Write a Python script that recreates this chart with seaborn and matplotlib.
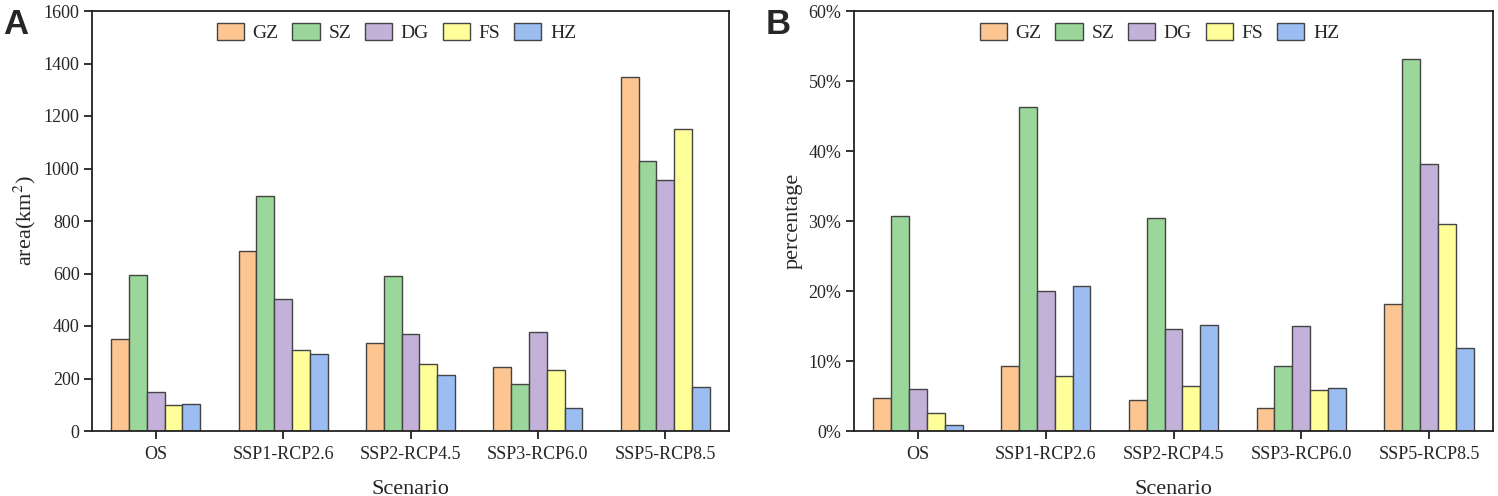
import matplotlib
matplotlib.use("Agg")
import matplotlib.pyplot as plt
import seaborn as sns
import pandas as pd
from matplotlib.ticker import PercentFormatter

scenarios = ["OS", "SSP1-RCP2.6", "SSP2-RCP4.5", "SSP3-RCP6.0", "SSP5-RCP8.5"]
cities = ["GZ", "SZ", "DG", "FS", "HZ"]
colors = ["#FDC591", "#9BD69B", "#C3B1D9", "#FFFF99", "#9CBDF2"]

area_GZ = [350, 685, 335, 245, 1350]
area_SZ = [595, 897, 590, 178, 1028]
area_DG = [150, 503, 368, 377, 958]
area_FS = [100, 310, 255, 233, 1152]
area_HZ = [103, 295, 213, 88, 168]

pct_GZ = [4.7, 9.3, 4.5, 3.3, 18.2]
pct_SZ = [30.7, 46.3, 30.4, 9.3, 53.2]
pct_DG = [6.0, 20.0, 14.6, 15.0, 38.1]
pct_FS = [2.6, 7.9, 6.5, 5.9, 29.6]
pct_HZ = [0.9, 20.7, 15.2, 6.1, 11.8]

area = {"GZ": area_GZ, "SZ": area_SZ, "DG": area_DG, "FS": area_FS, "HZ": area_HZ}
pct = {"GZ": pct_GZ, "SZ": pct_SZ, "DG": pct_DG, "FS": pct_FS, "HZ": pct_HZ}

def long_df(d):
    rows = []
    for c in cities:
        for s, v in zip(scenarios, d[c]):
            rows.append({"Scenario": s, "City": c, "value": v})
    return pd.DataFrame(rows)

sns.set_style("ticks")
plt.rcParams["font.family"] = ["Liberation Serif", "DejaVu Serif"]
plt.rcParams["mathtext.fontset"] = "stix"

W, H = 1498, 496
fig = plt.figure(figsize=(W / 100, H / 100), dpi=100)
ax1 = fig.add_axes([92 / W, 1 - 431 / H, (729 - 92) / W, (431 - 11) / H])
ax2 = fig.add_axes([854 / W, 1 - 431 / H, (1493 - 854) / W, (431 - 11) / H])

for ax, d, ylim, ylabel in [(ax1, area, (0, 1600), "area(km$^2$)"),
                            (ax2, pct, (0, 60), "percentage")]:
    df = long_df(d)
    sns.barplot(data=df, x="Scenario", y="value", hue="City", order=scenarios,
                hue_order=cities, palette=colors, width=0.7, edgecolor="#444444",
                linewidth=1.0, ax=ax, saturation=1)
    ax.set_ylim(*ylim)
    ax.set_xlim(-0.5, 4.5)
    ax.set_xlabel("Scenario", fontsize=16, labelpad=12)
    ax.set_ylabel(ylabel, fontsize=16)
    ax.tick_params(axis="both", labelsize=13, direction="out", length=6, width=1.3,
                   color="#222222", pad=3)
    ax.tick_params(axis="x", pad=5)
    for sp in ax.spines.values():
        sp.set_visible(True)
        sp.set_linewidth(1.3)
        sp.set_color("#222222")
    ax.legend(loc="center", ncol=5, frameon=False, fontsize=14,
              handlelength=1.4, handleheight=0.95, columnspacing=0.7,
              handletextpad=0.45, borderpad=0.2, bbox_to_anchor=(0.478, 0.948))
ax1.set_yticks(range(0, 1601, 200))
ax2.set_yticks(range(0, 61, 10))
ax2.yaxis.set_major_formatter(PercentFormatter(decimals=0))

fig.text(3 / W, 1 - 8 / H, "A", fontsize=25, fontweight="bold", family="Liberation Sans",
         va="top", ha="left")
fig.text(766 / W, 1 - 8 / H, "B", fontsize=25, fontweight="bold", family="Liberation Sans",
         va="top", ha="left")

fig.savefig("out.png", dpi=100)
